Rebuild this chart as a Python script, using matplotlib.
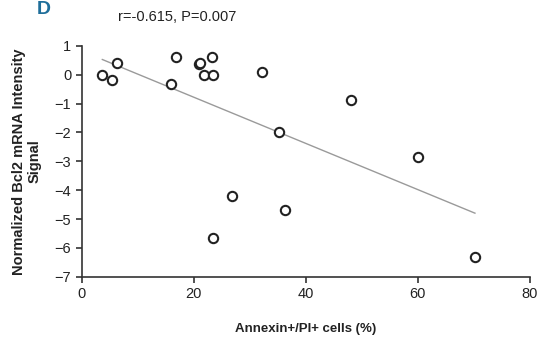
import numpy as np
import matplotlib
matplotlib.use("Agg")
import matplotlib.pyplot as plt

plt.rcParams["font.family"] = ["Liberation Sans", "DejaVu Sans"]

# Annexin+/PI+ cells (%) vs normalized Bcl2 mRNA signal
annexin_pct = [3.7, 5.4, 6.4, 16.0, 16.8, 21.0, 21.1, 21.9, 23.2, 23.4,
               32.2, 35.2, 26.9, 48.1, 60.1, 36.3, 23.5, 70.2]
bcl2_signal = [0.0, -0.17, 0.4, -0.33, 0.6, 0.38, 0.42, 0.0, 0.63, 0.0,
               0.1, -1.97, -4.2, -0.88, -2.85, -4.68, -5.65, -6.3]
x_ticks = [0, 20, 40, 60, 80]
y_ticks = [1, 0, -1, -2, -3, -4, -5, -6, -7]

fig = plt.figure(figsize=(5.44, 3.4), dpi=100)
ax = fig.add_axes([0.150, 0.186, 0.824, 0.679])

x = np.array(annexin_pct)
y = np.array(bcl2_signal)
slope, intercept = np.polyfit(x, y, 1)
xl = np.array([x.min(), x.max()])
ax.plot(xl, slope * xl + intercept, color="#9a9a9a", lw=1.0, zorder=1)

ax.scatter(x, y, s=45, facecolors="white", edgecolors="#222222",
           linewidths=1.5, zorder=2)

ax.set_xlim(0, 80)
ax.set_ylim(-7, 1)
ax.set_xticks(x_ticks)
ax.set_yticks(y_ticks)
for s in ["top", "right"]:
    ax.spines[s].set_visible(False)
for s in ["left", "bottom"]:
    ax.spines[s].set_color("#333333")
    ax.spines[s].set_linewidth(1.2)
ax.tick_params(direction="out", length=4, width=1.2, color="#333333",
               labelsize=10.5, labelcolor="#222222")

ax.set_xlabel("Annexin+/PI+ cells (%)", fontsize=9.5, fontweight="bold",
              color="#222222", labelpad=16)
ax.set_ylabel("Normalized Bcl2 mRNA Intensity\nSignal", fontsize=10.5,
              fontweight="bold", color="#222222", labelpad=9)

fig.text(0.217, 0.95, "r=-0.615, P=0.007", fontsize=10.5, color="#222222",
         va="center")
fig.text(0.068, 0.998, "D", fontsize=14, fontweight="bold", color="#1f6e9a",
         va="top")

fig.savefig("out.png", dpi=100)
